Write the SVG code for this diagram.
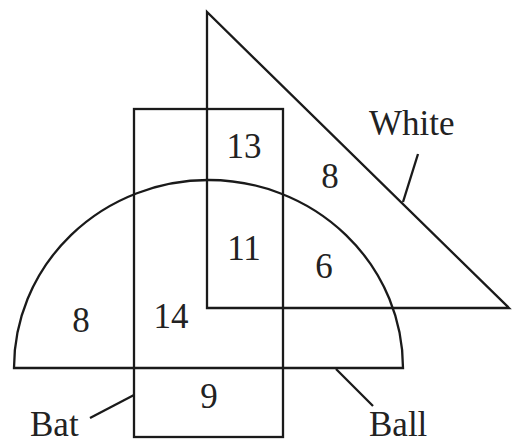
<svg xmlns="http://www.w3.org/2000/svg" width="512" height="445" viewBox="0 0 512 445">
<style>
.s{fill:none;stroke:#1a1a1a;stroke-width:2.3;stroke-linejoin:miter}
.t{font-family:"Liberation Serif","Times New Roman",serif;font-size:35px;fill:#222}
.n{text-anchor:middle}
</style>
<rect width="512" height="445" fill="#fff"/>
<g id="white">
<path class="s" d="M207,12 L207,308 L509,308 Z"/>
<text class="t" x="369" y="135">White</text>
</g>
<g id="bat">
<rect class="s" x="134" y="109" width="149" height="328"/>
<text class="t" x="30" y="436">Bat</text>
</g>
<g id="ball">
<path class="s" d="M14,368 A194.5,188 0 0 1 403,368 Z"/>
<text class="t" x="369" y="436">Ball</text>
</g>
<g id="connectors">
<line class="s" x1="403" y1="202" x2="418" y2="154"/>
<line class="s" x1="134" y1="395" x2="90" y2="418"/>
<line class="s" x1="336" y1="369" x2="373" y2="406"/>
</g>
<g id="counts" class="t n">
<text x="244" y="158">13</text>
<text x="330" y="188">8</text>
<text x="244" y="260">11</text>
<text x="324" y="278">6</text>
<text x="81" y="332">8</text>
<text x="171" y="328">14</text>
<text x="209" y="408">9</text>
</g>
</svg>
